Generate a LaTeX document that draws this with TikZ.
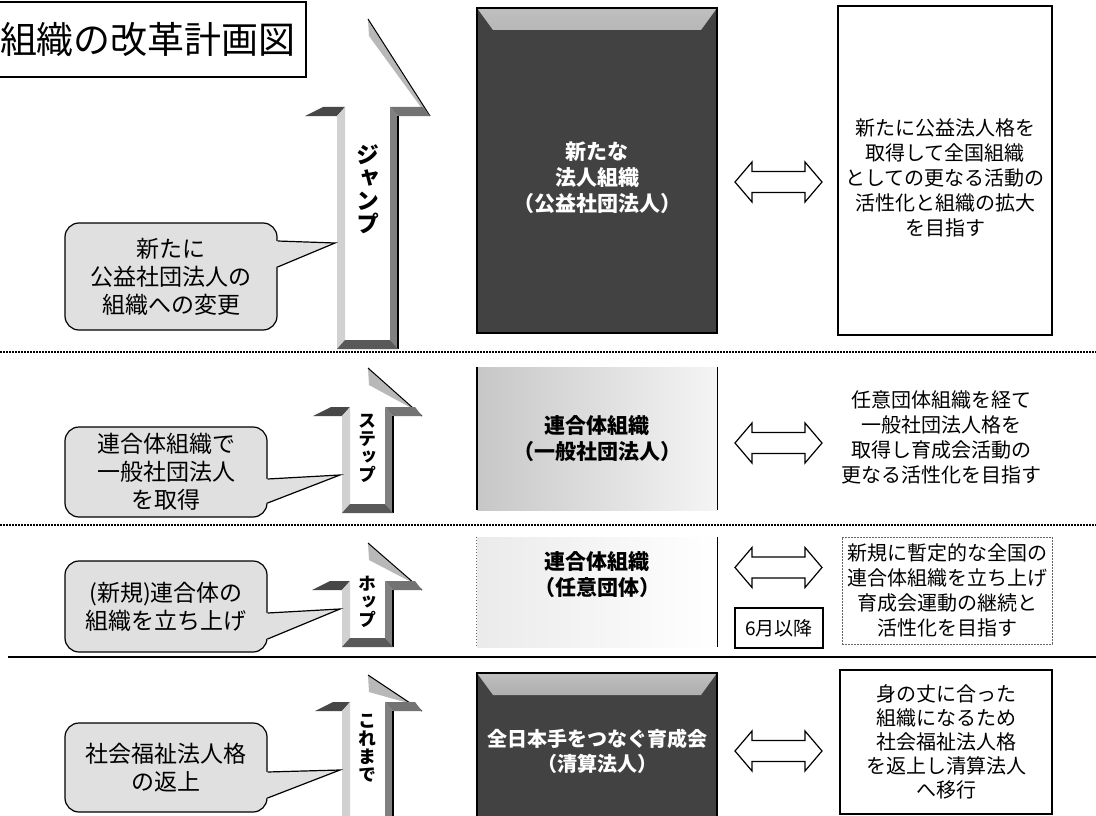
\documentclass[tikz,border=0pt]{standalone}
\usepackage{fontspec}
\setmainfont{Noto Sans CJK JP}
\newfontfamily\jpv[RawFeature=+vert]{Noto Sans CJK JP}
\usetikzlibrary{positioning,calc}

\newcommand{\stagearrow}[7]{%
	\fill[black!28] (368,#1) -- (#5,#2+9) -- (#5-7,#2+3) -- (369,#1+17) -- cycle;
	\draw[line width=1pt] (368,#1) -- (#5,#2+9);
	\fill[black!72] (#4,#2+9) -- (#6,#2+9) -- (#6+8,#2) -- (#4+18,#2) -- cycle;
	\fill[black!55] (#7-8,#2) -- (#5-7,#2) -- (#5,#2+9) -- (#7,#2+9) -- cycle;
	\fill[black!18] (#6,#2+9) -- (#6+8,#2) -- (#6+8,#3-9) -- (#6,#3) -- cycle;
	\fill[black!50] (#7-8,#2) -- (#7,#2+9) -- (#7,#3) -- (#7-8,#3-9) -- cycle;
	\draw[line width=1.4pt] (#7,#2+9) -- (#7,#3);
	\fill[black!65] (#6,#3) -- (#7,#3) -- (#7-8,#3-9) -- (#6+8,#3-9) -- cycle;
}
\newcommand{\calltail}[4]{%
	\fill[black!12] ($(#1.east |- 0,#2)+(-2,0)$) -- (#4) -- ($(#1.east |- 0,#3)+(-2,0)$) -- cycle;
	\draw[line width=1.2pt] (#1.east |- 0,#2) -- (#4) -- (#1.east |- 0,#3);
}

\begin{document}
\begin{tikzpicture}[x=1pt,y=-1pt,
		callout/.style={draw, line width=1.2pt, rounded corners=14pt, fill=black!12, align=center, inner sep=0pt, font=\fontsize{23}{28}\selectfont},
		darkbox/.style={draw=black, line width=1.2pt, fill=black!74, text=white, align=center, inner sep=0pt, font=\bfseries\fontsize{20}{25}\selectfont,
			path picture={\fill[top color=black!25, bottom color=black!74] (path picture bounding box.north west) -- (path picture bounding box.north east) -- ++(-16,22) -- ($(path picture bounding box.north west)+(16,22)$) -- cycle;}},
		goalbox/.style={draw, line width=2pt, align=center, inner sep=0pt, font=\fontsize{20}{25}\selectfont},
		goaltext/.style={align=center, inner sep=0pt, font=\fontsize{20}{25}\selectfont},
		orgtext/.style={align=center, inner sep=0pt, font=\bfseries\fontsize{21}{26}\selectfont},
		steplabel/.style={align=center, inner sep=0pt, font=\jpv\bfseries\fontsize{18}{18}\selectfont},
		linkarrow/.pic={\draw[fill=white, line width=1.2pt] (-43.5,0) -- (-26.5,-20) -- (-26.5,-10.5) -- (26.5,-10.5) -- (26.5,-20) -- (43.5,0) -- (26.5,20) -- (26.5,10.5) -- (-26.5,10.5) -- (-26.5,20) -- cycle;},
		sepdots/.style={line width=1.6pt, dash pattern=on 1.5pt off 1.5pt}]
	\useasboundingbox (0,0) rectangle (1096,816);
	\fill[white] (0,0) rectangle (1096,816);

	\node[draw, line width=1.2pt, minimum width=316pt, minimum height=75pt, inner sep=0pt, font=\fontsize{37}{37}\selectfont] (title) at (148,39.5) {組織の改革計画図};

	\draw[sepdots] (0,352) -- (1096,352);
	\draw[sepdots] (0,525) -- (1096,525);
	\draw[line width=1.5pt] (8,657) -- (1096,657);

	\stagearrow{19}{107}{349}{305}{430}{337}{398}
	\stagearrow{368}{407}{513}{313}{422}{342}{393}
	\stagearrow{543}{581}{647}{312}{422}{342}{393}
	\stagearrow{675}{702}{840}{315}{422}{342}{393}
	\node[steplabel, font=\jpv\bfseries\fontsize{23}{23}\selectfont] (lblJump) at (367.5,189) {ジ\\ャ\\ン\\プ};
	\node[steplabel] (lblStep) at (367.5,448) {ス\\テ\\ッ\\プ};
	\node[steplabel] (lblHop) at (367.5,602) {ホ\\ッ\\プ};
	\node[steplabel] (lblKore) at (367.5,748) {こ\\れ\\ま\\で};

	\node[callout, minimum width=212pt, minimum height=107pt] (cJump) at (171,276.5) {新たに\\公益社団法人の\\組織への変更};
	\node[callout, minimum width=202pt, minimum height=90pt] (cStep) at (166,472) {連合体組織で\\一般社団法人\\を取得};
	\node[callout, minimum width=202pt, minimum height=91pt] (cHop) at (166,606.5) {(新規)連合体の\\組織を立ち上げ};
	\node[callout, minimum width=202pt, minimum height=89pt] (cKore) at (166,767.5) {社会福祉法人格\\の返上};
	\coordinate (tipJump) at (335,243);
	\coordinate (tipStep) at (340,475);
	\coordinate (tipHop) at (340,609);
	\coordinate (tipKore) at (340,770);
	\calltail{cJump}{241}{267}{tipJump}
	\calltail{cStep}{479}{503}{tipStep}
	\calltail{cHop}{613}{639}{tipHop}
	\calltail{cKore}{772}{798}{tipKore}

	\node[darkbox, minimum width=240pt, minimum height=325pt] (org1) at (597,170.5) {};
	\node[orgtext, text=white] (org1t) at (597,178) {新たな\\法人組織\\（公益社団法人）};
	\node[inner sep=0pt, minimum width=240pt, minimum height=143pt, left color=black!22, right color=black!4, align=center, font=\bfseries\fontsize{21}{26}\selectfont] (org2) at (597,438.5) {連合体組織\\（一般社団法人）};
	\draw[line width=1.5pt] (org2.north west) -- (org2.south west);
	\draw[line width=1.2pt] (org2.north east) -- (org2.south east);
	\node[inner sep=0pt, minimum width=240pt, minimum height=110pt, left color=black!8, right color=white] (org3) at (597,592) {};
	\draw[black!60, line width=1pt, dotted] (org3.north west) -- (org3.south west);
	\draw[line width=1.2pt] (org3.north east) -- (org3.south east);
	\node[orgtext] (org3t) at (597,575) {連合体組織\\（任意団体）};
	\node[darkbox] (org4) [minimum width=240pt, minimum height=157pt] at (597,751.5) {全日本手をつなぐ育成会\\（清算法人）};

	\node[goalbox, minimum width=214pt, minimum height=329pt] (goal1) at (945,170.5) {};
	\node[goaltext] (goal1t) at (945,178) {新たに公益法人格を\\取得して全国組織\\としての更なる活動の\\活性化と組織の拡大\\を目指す};
	\node[goaltext] (goal2) at (941,437.5) {任意団体組織を経て\\一般社団法人格を\\取得し育成会活動の\\更なる活性化を目指す};
	\node[goaltext, draw=black!60, line width=0.9pt, dash pattern=on 2pt off 1pt, minimum width=210pt, minimum height=107pt] (goal3) at (947,590.5) {新規に暫定的な全国の\\連合体組織を立ち上げ\\育成会運動の継続と\\活性化を目指す};
	\node[goalbox, minimum width=212pt, minimum height=144pt, font=\fontsize{20}{24}\selectfont] (goal4) at (946,742) {身の丈に合った\\組織になるため\\社会福祉法人格\\を返上し清算法人\\へ移行};

	\pic (link1) at (778.5,182) {linkarrow};
	\pic (link2) at (778.5,443) {linkarrow};
	\pic (link3) at (778.5,567.5) {linkarrow};
	\pic (link4) at (778.5,751) {linkarrow};
	\node[draw, line width=2.2pt, minimum width=88pt, minimum height=40pt, inner sep=0pt, font=\fontsize{19}{19}\selectfont] (since) at (779,628) {6月以降};
\end{tikzpicture}
\end{document}
